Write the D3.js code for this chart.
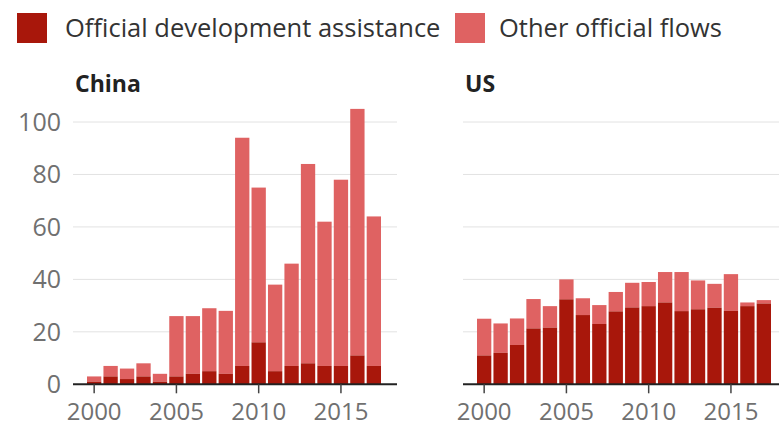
<!DOCTYPE html>
<html lang="en">
<head>
    <meta charset="UTF-8">
    <title>China vs US official finance</title>
    <script src="https://d3js.org/d3.v7.min.js"></script>
    <style>
        body {
            margin: 0;
            background: #fff;
            font-family: "Open Sans", Arial, sans-serif;
        }

        svg {
            display: block;
        }

        .grid line {
            stroke: #e2e2e2;
            stroke-width: 1px;
        }

        .tick-label {
            fill: #707070;
            font-size: 25px;
        }

        .xlab {
            font-size: 24px;
        }

        .panel-title {
            fill: #222;
            font-size: 23px;
            font-weight: bold;
        }

        .legend-text {
            fill: #333;
            font-size: 25.5px;
        }
    </style>
</head>
<body>
    <svg id="chart"></svg>
    <script>
        const years = d3.range(2000, 2018);
        const xTicks = [2000, 2005, 2010, 2015];
        const yTicks = [0, 20, 40, 60, 80, 100];

        const seriesNames = ["Official development assistance", "Other official flows"];
        const seriesColors = ["#a8170b", "#df6262"];

        // totals, ODA is the dark part
        const chinaOda = [1, 3, 2, 3, 1, 3, 4, 5, 4, 7, 16, 5, 7, 8, 7, 7, 11, 7];
        const chinaTotal = [3, 7, 6, 8, 4, 26, 26, 29, 28, 94, 75, 38, 46, 84, 62, 78, 105, 64];

        const usOda = [11, 12, 15, 21.3, 21.6, 32.4, 26.4, 23, 27.8, 29.3, 29.8, 31.2, 27.9, 28.6, 29.2, 28, 29.8, 30.8];
        const usTotal = [25, 23.2, 25.1, 32.5, 29.8, 40, 32.8, 30.2, 35.2, 38.7, 39, 42.8, 42.8, 39.6, 38.3, 42, 31.2, 32.1];

        const W = 779, H = 428;
        const svg = d3.select("#chart").attr("width", W).attr("height", H);

        const y = d3.scaleLinear().domain([0, 100]).range([384.3, 122]);

        // legend
        const legend = svg.append("g");
        const legendX = [17, 455];
        const legendTextX = [65, 499];
        seriesNames.forEach((name, i) => {
            legend.append("rect")
                .attr("x", legendX[i]).attr("y", 13)
                .attr("width", 30).attr("height", 30)
                .attr("fill", seriesColors[i]);
            legend.append("text")
                .attr("class", "legend-text")
                .attr("x", legendTextX[i]).attr("y", 37)
                .text(name);
        });

        function drawPanel(name, oda, total, left, showY) {
            const right = left + 324;
            const g = svg.append("g");

            const x = d3.scaleBand()
                .domain(years)
                .range([left + 14, right - 16])
                .paddingInner(0.13);

            // gridlines
            g.append("g").attr("class", "grid")
                .selectAll("line")
                .data(yTicks.filter(d => d > 0))
                .join("line")
                .attr("x1", left).attr("x2", right)
                .attr("y1", d => y(d)).attr("y2", d => y(d));

            if (showY) {
                g.selectAll(".ylab")
                    .data(yTicks)
                    .join("text")
                    .attr("class", "tick-label ylab")
                    .attr("x", 61)
                    .attr("y", d => y(d))
                    .attr("dy", "0.36em")
                    .attr("text-anchor", "end")
                    .text(d => d);
            }

            const rows = years.map((yr, i) => ({ year: yr, oda: oda[i], total: total[i] }));

            // other official flows: from oda up to total
            g.selectAll(".oof")
                .data(rows)
                .join("rect")
                .attr("x", d => x(d.year))
                .attr("width", x.bandwidth())
                .attr("y", d => y(d.total))
                .attr("height", d => y(d.oda) - y(d.total))
                .attr("fill", seriesColors[1]);

            g.selectAll(".oda")
                .data(rows)
                .join("rect")
                .attr("x", d => x(d.year))
                .attr("width", x.bandwidth())
                .attr("y", d => y(d.oda))
                .attr("height", d => y(0) - y(d.oda))
                .attr("fill", seriesColors[0]);

            // baseline + ticks
            g.append("line")
                .attr("x1", left).attr("x2", right)
                .attr("y1", y(0)).attr("y2", y(0))
                .attr("stroke", "#222").attr("stroke-width", 2);

            const cx = d => x(d) + x.bandwidth() / 2;
            g.selectAll(".xtick")
                .data(xTicks)
                .join("line")
                .attr("x1", cx).attr("x2", cx)
                .attr("y1", y(0)).attr("y2", y(0) + 9)
                .attr("stroke", "#444").attr("stroke-width", 1.5);

            g.selectAll(".xlab")
                .data(xTicks)
                .join("text")
                .attr("class", "tick-label xlab")
                .attr("x", cx)
                .attr("y", 420)
                .attr("text-anchor", "middle")
                .text(d => d);

            g.append("text")
                .attr("class", "panel-title")
                .attr("x", left + 2)
                .attr("y", 92)
                .text(name);
        }

        drawPanel("China", chinaOda, chinaTotal, 73, true);
        drawPanel("US", usOda, usTotal, 463, false);
    </script>
</body>
</html>
